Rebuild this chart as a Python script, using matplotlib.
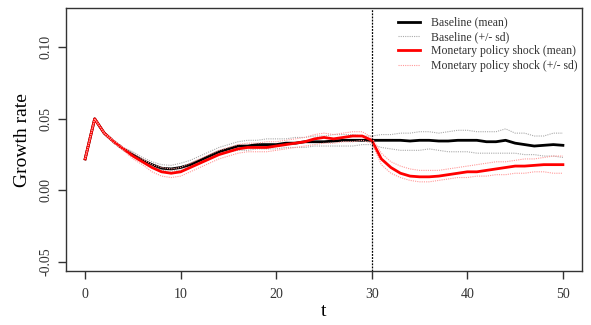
import matplotlib.pyplot as plt
import numpy as np

# Simulated growth rate paths, t = 0..50
t = np.arange(0, 51)

base_mean = [0.022, 0.050, 0.040, 0.034, 0.029, 0.025, 0.021, 0.018, 0.0155, 0.015,
             0.016, 0.018, 0.021, 0.024, 0.027, 0.029, 0.031, 0.031, 0.032, 0.032,
             0.032, 0.033, 0.033, 0.034, 0.034, 0.034, 0.0345, 0.035, 0.035, 0.035,
             0.035, 0.035, 0.035, 0.035, 0.0345, 0.035, 0.035, 0.0345, 0.0345, 0.035,
             0.035, 0.035, 0.034, 0.034, 0.035, 0.033, 0.032, 0.031, 0.0315, 0.032,
             0.0315]
base_hi = [0.022, 0.050, 0.040, 0.035, 0.030, 0.027, 0.023, 0.020, 0.018, 0.0175,
           0.019, 0.021, 0.024, 0.027, 0.030, 0.032, 0.034, 0.035, 0.035, 0.036,
           0.036, 0.036, 0.037, 0.037, 0.038, 0.038, 0.039, 0.039, 0.039, 0.038,
           0.038, 0.039, 0.039, 0.040, 0.040, 0.041, 0.041, 0.040, 0.041, 0.042,
           0.042, 0.041, 0.041, 0.041, 0.043, 0.040, 0.040, 0.038, 0.038, 0.040,
           0.040]
base_lo = [0.022, 0.050, 0.040, 0.033, 0.028, 0.024, 0.020, 0.017, 0.014, 0.0135,
           0.014, 0.016, 0.019, 0.022, 0.025, 0.027, 0.028, 0.028, 0.029, 0.029,
           0.029, 0.030, 0.030, 0.030, 0.031, 0.031, 0.031, 0.031, 0.031, 0.032,
           0.032, 0.030, 0.029, 0.028, 0.028, 0.028, 0.029, 0.028, 0.027, 0.027,
           0.027, 0.026, 0.026, 0.026, 0.026, 0.026, 0.025, 0.025, 0.024, 0.024,
           0.023]

shock_mean = [0.022, 0.050, 0.040, 0.034, 0.029, 0.024, 0.020, 0.016, 0.013, 0.012,
              0.013, 0.016, 0.019, 0.022, 0.025, 0.027, 0.029, 0.030, 0.030, 0.030,
              0.031, 0.032, 0.033, 0.034, 0.036, 0.037, 0.036, 0.037, 0.038, 0.038,
              0.035, 0.022, 0.016, 0.012, 0.010, 0.0095, 0.0095, 0.010, 0.011, 0.012,
              0.013, 0.013, 0.014, 0.015, 0.016, 0.017, 0.017, 0.0175, 0.018, 0.018,
              0.018]
shock_hi = [0.022, 0.050, 0.040, 0.035, 0.030, 0.026, 0.022, 0.018, 0.016, 0.015,
            0.016, 0.019, 0.022, 0.025, 0.028, 0.030, 0.032, 0.033, 0.033, 0.034,
            0.034, 0.035, 0.036, 0.037, 0.039, 0.040, 0.039, 0.040, 0.041, 0.041,
            0.037, 0.026, 0.020, 0.017, 0.015, 0.014, 0.014, 0.014, 0.015, 0.016,
            0.017, 0.018, 0.019, 0.020, 0.020, 0.021, 0.022, 0.022, 0.023, 0.024,
            0.024]
shock_lo = [0.022, 0.050, 0.040, 0.033, 0.028, 0.022, 0.018, 0.013, 0.010, 0.009,
            0.010, 0.013, 0.016, 0.019, 0.022, 0.024, 0.026, 0.027, 0.027, 0.027,
            0.028, 0.029, 0.030, 0.031, 0.032, 0.033, 0.033, 0.034, 0.034, 0.035,
            0.033, 0.018, 0.012, 0.009, 0.007, 0.006, 0.006, 0.007, 0.008, 0.009,
            0.009, 0.010, 0.010, 0.011, 0.011, 0.012, 0.012, 0.013, 0.013, 0.012,
            0.012]

shock_time = 30

plt.rcParams['font.family'] = ['Liberation Serif', 'DejaVu Serif']

fig = plt.figure(figsize=(5.91, 3.25), dpi=100)
ax = fig.add_axes([0.1117, 0.166, 0.8731, 0.809])

ax.plot(t, base_mean, color="black", lw=2, label="Baseline (mean)")
ax.plot(t, base_hi, color="#aaaaaa", lw=0.8, ls=(0, (1, 1)), label="Baseline (+/- sd)")
ax.plot(t, base_lo, color="#aaaaaa", lw=0.8, ls=(0, (1, 1)))
ax.plot(t, shock_mean, color="red", lw=2, label="Monetary policy shock (mean)")
ax.plot(t, shock_hi, color="#ff9999", lw=0.8, ls=(0, (1, 1)), label="Monetary policy shock (+/- sd)")
ax.plot(t, shock_lo, color="#ff9999", lw=0.8, ls=(0, (1, 1)))
ax.axvline(shock_time, color="black", lw=0.9, ls=(0, (1.5, 1)))

ax.set_xlim(-2, 52)
ax.set_ylim(-0.0563, 0.1273)
ax.set_xticks([0, 10, 20, 30, 40, 50])
ax.set_yticks([-0.05, 0.00, 0.05, 0.10])
ax.set_yticklabels(["-0.05", "0.00", "0.05", "0.10"], rotation=90, va="center")
ax.tick_params(direction="out", length=6, width=1, labelsize=10, colors="#333333",
               labelcolor="#333333")
ax.tick_params(axis="x", pad=6)
for s in ax.spines.values():
    s.set_linewidth(1)
    s.set_color("#333333")

ax.set_xlabel("t", fontsize=14, labelpad=2)
ax.set_ylabel("Growth rate", fontsize=14, labelpad=6)

leg = ax.legend(loc="upper right", frameon=False, fontsize=8.5, handlelength=1.9,
                handletextpad=0.9, labelspacing=0.2, bbox_to_anchor=(1.012, 1.008))
for txt in leg.get_texts():
    txt.set_color("#333333")

plt.savefig("out.png", dpi=100)
